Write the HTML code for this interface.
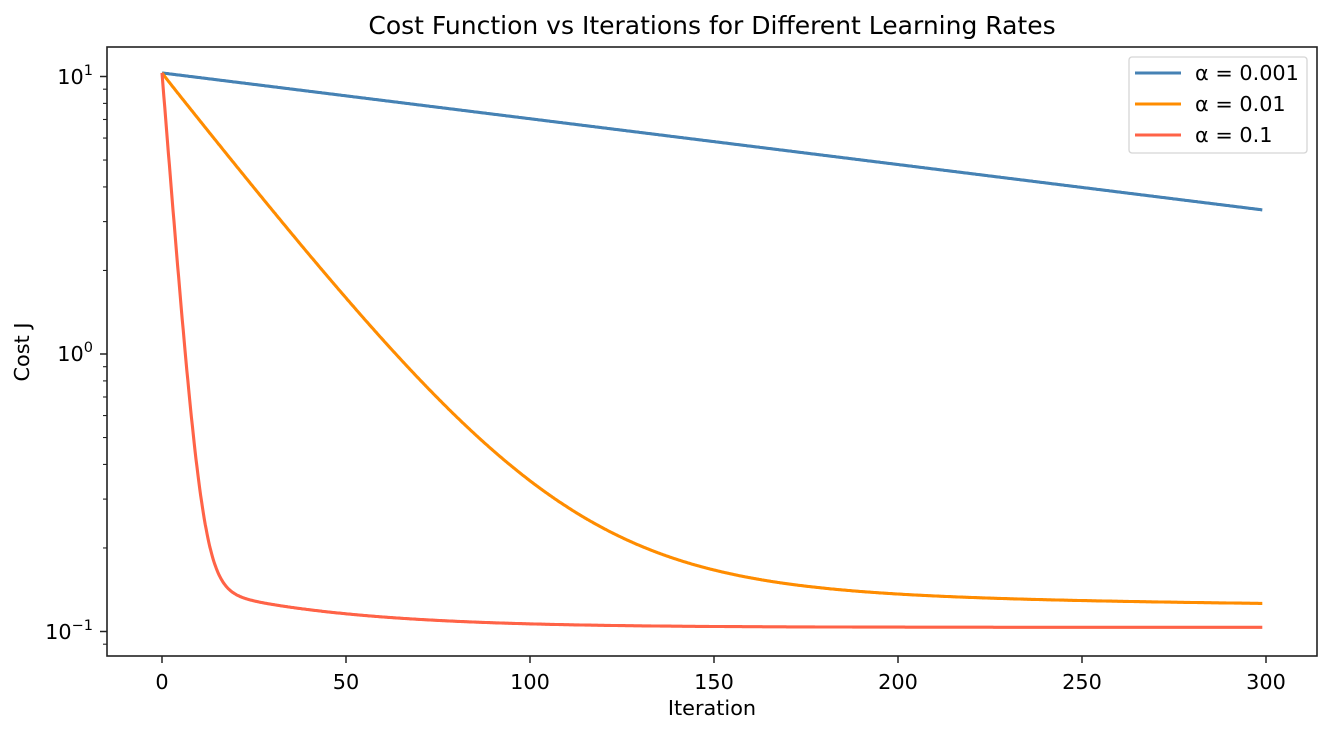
<!DOCTYPE html>
<html><head><meta charset="utf-8"><style>
body{margin:0;background:#fff;}
svg text{font-family:"DejaVu Sans","Liberation Sans",sans-serif;fill:#000;}
</style></head><body>
<svg id="s" width="1333" height="734" xmlns="http://www.w3.org/2000/svg">
<rect width="1333" height="734" fill="#fff"/>
<text x="712" y="34" font-size="25" text-anchor="middle">Cost Function vs Iterations for Different Learning Rates</text>
<g id="plot" clip-path="url(#c)"></g>
<clipPath id="c"><rect x="107" y="47" width="1210" height="609"/></clipPath>
<rect x="107" y="47" width="1210" height="609" fill="none" stroke="#222" stroke-width="1.6"/>
<g id="ticks" stroke="#222" stroke-width="1.5"></g>
<g font-size="20.8">
<text x="162" y="689" text-anchor="middle">0</text>
<text x="346" y="689" text-anchor="middle">50</text>
<text x="530" y="689" text-anchor="middle">100</text>
<text x="714" y="689" text-anchor="middle">150</text>
<text x="898" y="689" text-anchor="middle">200</text>
<text x="1082" y="689" text-anchor="middle">250</text>
<text x="1266" y="689" text-anchor="middle">300</text>
<text x="93" y="84" text-anchor="end">10<tspan font-size="14.5" dy="-9">1</tspan></text>
<text x="93" y="361" text-anchor="end">10<tspan font-size="14.5" dy="-9">0</tspan></text>
<text x="93" y="639" text-anchor="end">10<tspan font-size="14.5" dy="-9">−1</tspan></text>
<text x="712" y="715" text-anchor="middle">Iteration</text>
<text transform="translate(29,352) rotate(-90)" text-anchor="middle">Cost J</text>
</g>
<rect x="1129" y="57" width="178" height="96" rx="3" fill="#fff" fill-opacity="0.8" stroke="#d5d5d5" stroke-width="1.3"/>
<line x1="1135" y1="73" x2="1181" y2="73" stroke="#4682b4" stroke-width="3"/>
<line x1="1135" y1="104" x2="1181" y2="104" stroke="#ff8c00" stroke-width="3"/>
<line x1="1135" y1="135" x2="1181" y2="135" stroke="#ff6347" stroke-width="3"/>
<g font-size="20.8">
<text x="1195" y="80">α = 0.001</text>
<text x="1195" y="111">α = 0.01</text>
<text x="1195" y="142">α = 0.1</text>
</g>
</svg>
<script>
var X=t=>162+t*3.68, Y=j=>354-277.5*Math.log10(j);
var fs=[
 ["#4682b4",t=>10.3*Math.exp(-0.0038*t)],
 ["#ff8c00",t=>0.12+10.1*Math.exp(-0.039*t)+0.05*Math.exp(-0.007*t)+0.03*Math.exp(-0.5*t)],
 ["#ff6347",t=>0.1035+10.15*Math.exp(-0.39*t)+0.05*Math.exp(-0.028*t)]
];
var p=document.getElementById('plot'),h='';
fs.forEach(f=>{var d='';for(var t=0;t<=299;t+=0.25){d+=(t?'L':'M')+X(t).toFixed(1)+','+Y(f[1](t)).toFixed(1);}
h+='<path d="'+d+'" fill="none" stroke="'+f[0]+'" stroke-width="3.1" stroke-linejoin="round"/>';});
p.innerHTML=h;
var tk='';
[0,50,100,150,200,250,300].forEach(v=>{var x=X(v);tk+='<line x1="'+x+'" y1="656" x2="'+x+'" y2="663"/>';});
[0.1,1,10].forEach(v=>{var y=Y(v);tk+='<line x1="100" y1="'+y+'" x2="107" y2="'+y+'"/>';});
[0.09,0.2,0.3,0.4,0.5,0.6,0.7,0.8,0.9,2,3,4,5,6,7,8,9].forEach(v=>{var y=Y(v);if(y<656&&y>47)tk+='<line x1="103" y1="'+y+'" x2="107" y2="'+y+'" stroke-width="1.1"/>';});
document.getElementById('ticks').innerHTML=tk;
</script>
</body></html>
